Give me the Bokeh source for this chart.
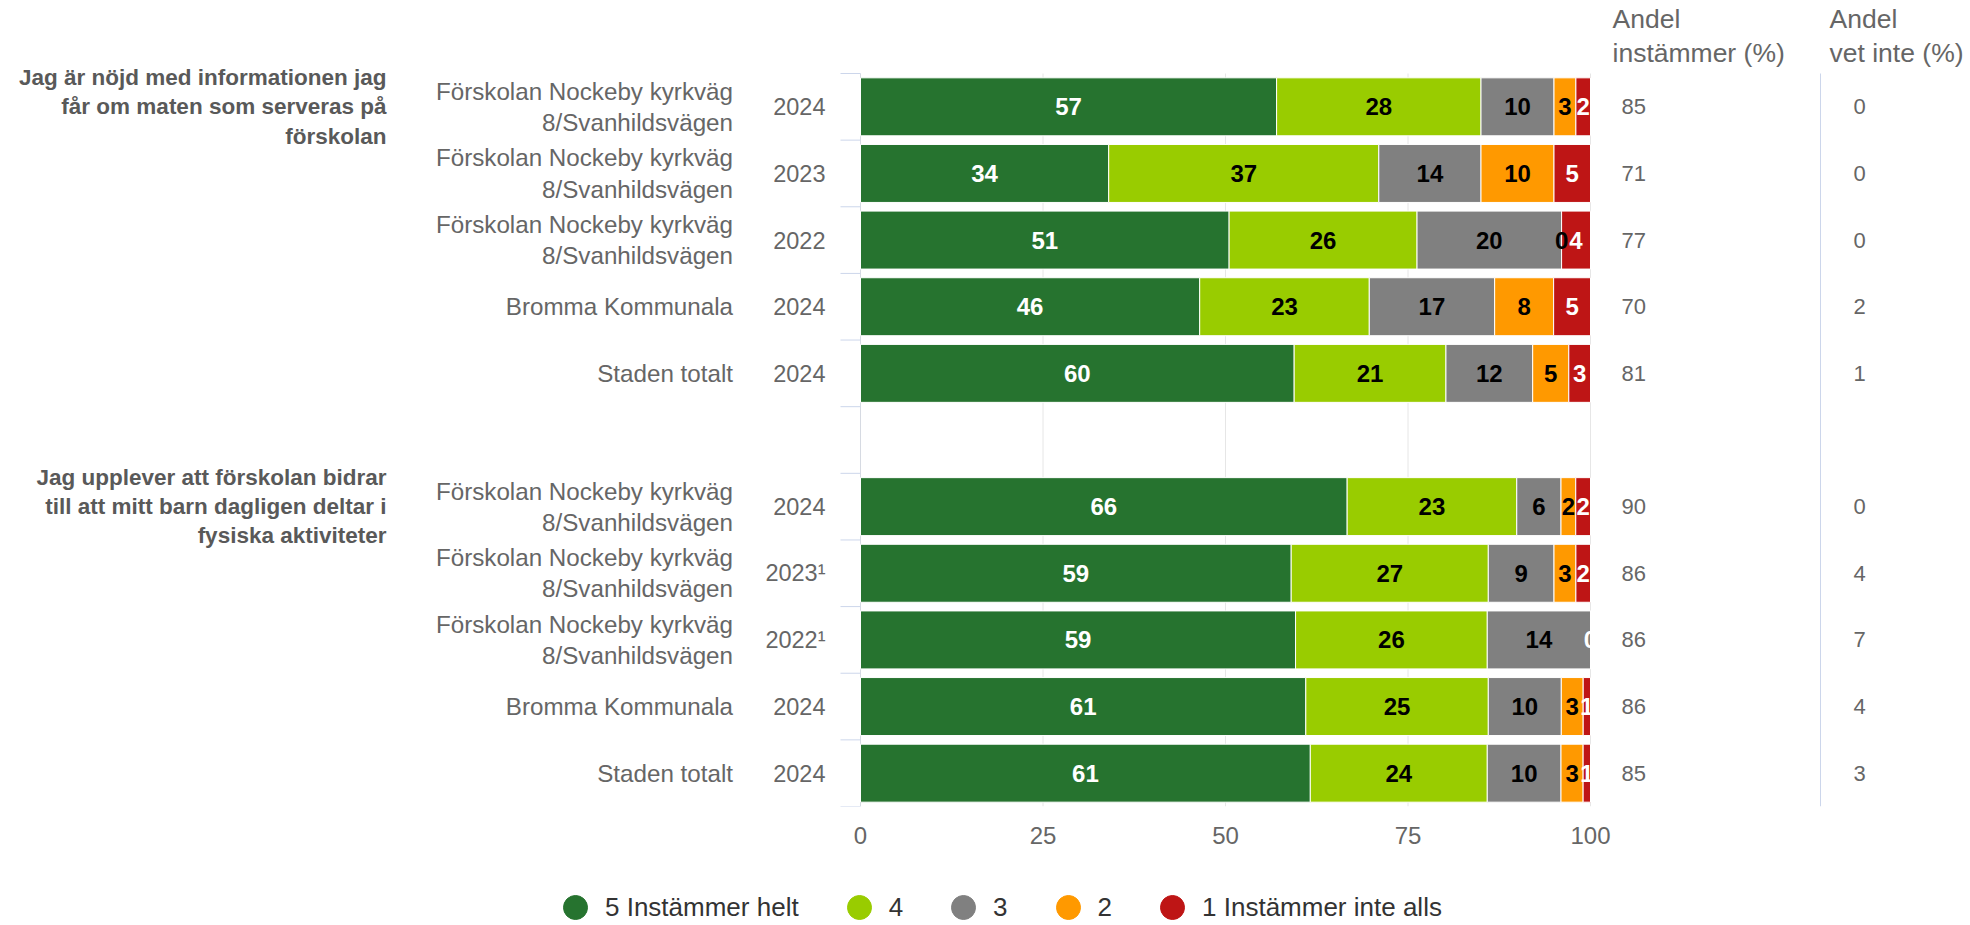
from bokeh.plotting import figure
from bokeh.layouts import column
from bokeh.models import (ColumnDataSource, Range1d, FixedTicker, Legend, LegendItem)
from bokeh.core.properties import value
from bokeh.embed import file_html
from bokeh.resources import INLINE

# ---------------- data ----------------
questions = [
    "Jag är nöjd med informationen jag\nfår om maten som serveras på\nförskolan",
    "Jag upplever att förskolan bidrar\ntill att mitt barn dagligen deltar i\nfysiska aktiviteter",
]
units = ["Förskolan Nockeby kyrkväg\n8/Svanhildsvägen",
         "Förskolan Nockeby kyrkväg\n8/Svanhildsvägen",
         "Förskolan Nockeby kyrkväg\n8/Svanhildsvägen",
         "Bromma Kommunala",
         "Staden totalt"]
years_q1 = ["2024", "2023", "2022", "2024", "2024"]
years_q2 = ["2024", "2023¹", "2022¹", "2024", "2024"]

series_names = ["5 Instämmer helt", "4", "3", "2", "1 Instämmer inte alls"]
series_colors = ["#26732f", "#99cc00", "#808080", "#ff9900", "#be1515"]
label_colors = ["#ffffff", "#000000", "#000000", "#000000", "#ffffff"]

s5_q1 = [57, 34, 51, 46, 60]
s4_q1 = [28, 37, 26, 23, 21]
s3_q1 = [10, 14, 20, 17, 12]
s2_q1 = [3, 10, 0, 8, 5]
s1_q1 = [2, 5, 4, 5, 3]

s5_q2 = [66, 59, 59, 61, 61]
s4_q2 = [23, 27, 26, 25, 24]
s3_q2 = [6, 9, 14, 10, 10]
s2_q2 = [2, 3, 0, 3, 3]
s1_q2 = [2, 2, 0, 1, 1]

agree_q1 = [85, 71, 77, 70, 81]
dontknow_q1 = [0, 0, 0, 2, 1]
agree_q2 = [90, 86, 86, 86, 85]
dontknow_q2 = [0, 4, 7, 4, 3]

header_agree = ["Andel", "instämmer (%)"]
header_dk = ["Andel", "vet inte (%)"]

x_ticks = [0, 25, 50, 75, 100]

# ---------------- build rows ----------------
rows_q1 = [0, 1, 2, 3, 4]
rows_q2 = [6, 7, 8, 9, 10]   # row 5 is the empty gap between questions
n_rows = 11

groups = [
    (rows_q1, [s5_q1, s4_q1, s3_q1, s2_q1, s1_q1], years_q1, agree_q1, dontknow_q1),
    (rows_q2, [s5_q2, s4_q2, s3_q2, s2_q2, s1_q2], years_q2, agree_q2, dontknow_q2),
]

seg = dict(y=[], left=[], right=[], color=[])
lab = dict(x=[], y=[], text=[], color=[])
cat = dict(y=[], unit=[], year=[], agree=[], dk=[])

for rows, series, years, agree, dk in groups:
    for i, r in enumerate(rows):
        vals = [s[i] for s in series]
        tot = float(sum(vals))
        cum = 0.0
        for k, v in enumerate(vals):
            w = v / tot * 100.0
            seg["y"].append(r)
            seg["left"].append(cum)
            seg["right"].append(cum + w)
            seg["color"].append(series_colors[k])
            hide = (v == 0 and k + 1 < len(vals) and vals[k + 1] == 0)
            if not hide:
                lab["x"].append(cum + w / 2.0)
                lab["y"].append(r)
                lab["text"].append(str(v))
                lab["color"].append(label_colors[k])
            cum += w
        cat["y"].append(r)
        cat["unit"].append(units[i])
        cat["year"].append(years[i])
        cat["agree"].append(str(agree[i]))
        cat["dk"].append(str(dk[i]))

# ---------------- geometry (pixels) ----------------
W = 1970
H_MAIN = 860
H_LEG = 65
PX_LEFT0, PX_100 = 860.0, 1590.0          # screen x of value 0 and 100
ROW_TOP, ROW_BOT = 73.0, 806.0            # screen y of first / last category boundary
ux = (PX_100 - PX_LEFT0) / 100.0
uy = (ROW_BOT - ROW_TOP) / n_rows

def xd(px):
    return (px - PX_LEFT0) / ux

def yd(py):
    return -0.5 + (py - ROW_TOP) / uy

FONT = "Liberation Sans"
GREY = "#666666"

p = figure(width=W, height=H_MAIN, output_backend="svg", toolbar_location=None,
           x_range=Range1d(xd(0), xd(W)), y_range=Range1d(n_rows - 0.5, yd(0)),
           y_axis_location=None,
           min_border_left=0, min_border_right=0, min_border_top=0,
           min_border_bottom=int(H_MAIN - ROW_BOT))
p.outline_line_color = None
p.background_fill_color = "white"
p.border_fill_color = "white"
p.grid.visible = False

# x axis (value axis)
p.xaxis.ticker = FixedTicker(ticks=x_ticks)
p.xaxis.axis_line_color = None
p.xaxis.major_tick_line_color = None
p.xaxis.minor_tick_line_color = None
p.xaxis.major_tick_out = 0
p.xaxis.major_tick_in = 0
p.xaxis.major_label_standoff = 20
p.xaxis.major_label_text_font = FONT
p.xaxis.major_label_text_font_size = "24px"
p.xaxis.major_label_text_color = GREY

y_lo, y_hi = -0.5, n_rows - 0.5

# vertical grid lines at the value ticks (only over the plot rows)
gx = x_ticks[1:]
p.segment(x0=gx, x1=gx, y0=[y_lo] * len(gx), y1=[y_hi] * len(gx),
          line_color="#e6e6e6", line_width=1)

# category axis line at 0 and tick marks between categories
p.segment(x0=[0], x1=[0], y0=[y_lo], y1=[y_hi], line_color="#d6dae2", line_width=1)
bounds = [y_lo + i for i in range(n_rows + 1)]
p.segment(x0=[0] * len(bounds), x1=[xd(PX_LEFT0 - 20)] * len(bounds), y0=bounds, y1=bounds,
          line_color="#ccd6eb", line_width=1)

# separator line between the two right-hand columns
sep_x = xd(1820)
p.segment(x0=[sep_x], x1=[sep_x], y0=[y_lo], y1=[y_hi], line_color="#ccd6eb", line_width=1)

# bars
p.hbar(y="y", left="left", right="right", height=0.87, fill_color="color",
       line_color="white", line_width=1, source=ColumnDataSource(seg))

# data labels
p.text(x="x", y="y", text="text", text_color="color", source=ColumnDataSource(lab),
       text_font=value(FONT), text_font_style="bold", text_font_size="24px",
       text_align="center", text_baseline="middle")

csrc = ColumnDataSource(cat)
p.text(x=xd(732.5), y="y", text="unit", source=csrc,
       text_font=value(FONT), text_font_size="24.2px", text_color=GREY,
       text_align="right", text_baseline="middle", text_line_height=1.155)
p.text(x=xd(825), y="y", text="year", source=csrc,
       text_font=value(FONT), text_font_size="23.5px", text_color=GREY,
       text_align="right", text_baseline="middle")
p.text(x=xd(1621), y="y", text="agree", source=csrc,
       text_font=value(FONT), text_font_size="22px", text_color=GREY,
       text_align="left", text_baseline="middle")
p.text(x=xd(1853), y="y", text="dk", source=csrc,
       text_font=value(FONT), text_font_size="22px", text_color=GREY,
       text_align="left", text_baseline="middle")

# question labels, centred on the first row of each group
qsrc = ColumnDataSource(dict(y=[rows_q1[0], rows_q2[0]], text=questions))
p.text(x=xd(386), y="y", text="text", source=qsrc,
       text_font=value(FONT), text_font_style="bold", text_font_size="22.5px",
       text_color="#595959", text_align="right", text_baseline="middle",
       text_line_height=1.17)

# column headers
hsrc = ColumnDataSource(dict(
    x=[xd(1612), xd(1612), xd(1829), xd(1829)],
    y=[yd(18), yd(52), yd(18), yd(52)],
    text=[header_agree[0], header_agree[1], header_dk[0], header_dk[1]]))
p.text(x="x", y="y", text="text", source=hsrc,
       text_font=value(FONT), text_font_size="26.5px", text_color=GREY,
       text_align="left", text_baseline="middle")

# ---------------- legend (own strip below) ----------------
lf = figure(width=W, height=H_LEG, output_backend="svg", toolbar_location=None,
            x_range=Range1d(0, 1), y_range=Range1d(0, 1),
            x_axis_location=None, y_axis_location=None,
            min_border_left=0, min_border_right=0, min_border_top=0, min_border_bottom=0)
lf.outline_line_color = None
lf.grid.visible = False
nan = float("nan")
rends = [lf.scatter(x=[nan], y=[nan], marker="circle", size=24, fill_color=c, line_color=c)
         for c in series_colors]
GW = 60
legend = Legend(items=[LegendItem(label=n, renderers=[r]) for n, r in zip(series_names, rends)],
                orientation="horizontal",
                location=(575 - GW / 2, H_MAIN + H_LEG - (907 + GW / 2)),
                glyph_width=GW, glyph_height=GW, label_standoff=-13, spacing=30,
                label_width=0, padding=0, margin=0,
                border_line_color=None, background_fill_alpha=0,
                label_text_font=FONT, label_text_font_size="26px",
                label_text_color="#333333")
lf.add_layout(legend)

open("out.html", "w").write(file_html(column(p, lf, spacing=0), INLINE))
